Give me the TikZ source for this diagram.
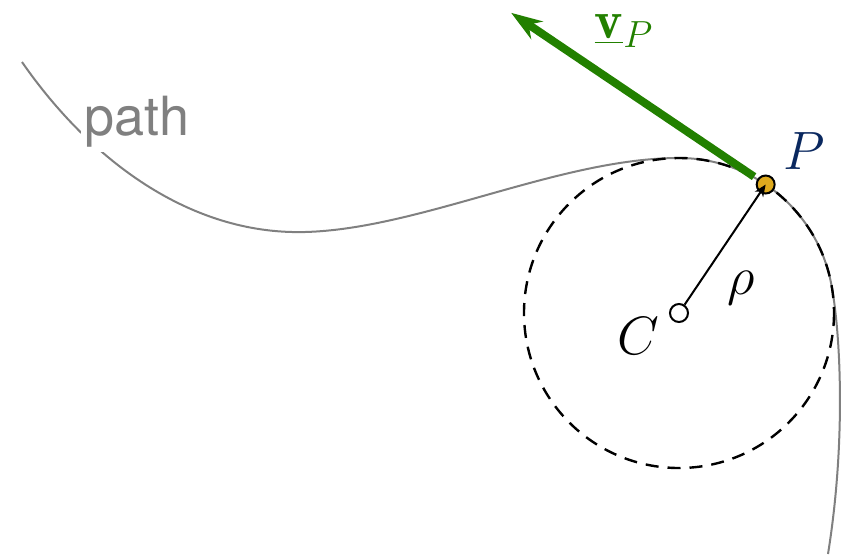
\RequirePackage{fix-cm}
\documentclass[tikz,border=0pt]{standalone}
\usepackage{fontspec}
\usepackage{xcolor}
\usetikzlibrary{arrows.meta, calc, math}
\newfontfamily\labelsans{TeX Gyre Heros}
\definecolor{vgreen}{RGB}{34,128,0}
\definecolor{pblue}{RGB}{10,40,95}
\definecolor{pgold}{RGB}{222,170,30}
\definecolor{pathgray}{RGB}{128,128,128}

\begin{document}
\begin{tikzpicture}[x=0.5pt, y=-0.5pt,
 big/.style={font=\fontsize{27}{32}\selectfont, inner sep=0pt},
 dot/.style={circle, draw, line width=1pt, minimum size=9pt, inner sep=0pt},
]

\tikzmath{
\R = 155;%curvature radius
\tP = -56;%angle of P on the circle
\tleave = -15;%path leaves the circle here
}

\useasboundingbox (0,0) rectangle (842,554);

\coordinate (Cpos) at (679,313);
\coordinate (Ppos) at ($(Cpos)+(\tP:\R)$);
\coordinate (vtip) at ($(Ppos)+(\tP-90:307)$);
\coordinate (vtail) at ($(Ppos)!7pt!(vtip)$);

%path
\draw[pathgray, line width=1pt] (22,62) .. controls (90,160) and (190,235) .. (305,232)
 .. controls (420,229) and (560,158) .. (679,158) arc(-90:\tleave:\R)
 .. controls +(10.4,38.6) and (848,430) .. (828,554);
\node[big, pathgray, fill=white, inner sep=2pt, font=\labelsans\fontsize{27}{32}\selectfont] (pathlabel) at (137,122) {path};

%osculating circle
\draw[dash pattern=on 6.5pt off 4.5pt, line width=1.2pt] (Cpos) circle (\R);

%velocity
\draw[vgreen, line width=4pt, -{Stealth[length=15.5pt, width=10.5pt, inset=5pt]}] (vtail) -- (vtip);
\node[big, vgreen] (vlabel) at (624,31) {$\underline{\mathbf{v}}_P$};

%points and radius
\node[dot, fill=pgold] (P) at (Ppos) {};
\node[dot, fill=white] (C) at (Cpos) {};
\draw[line width=1pt, -{Stealth[length=6pt, width=5pt]}] (C) -- (P.center);

\node[big, pblue] (Plabel) at (804,151) {$P$};
\node[big] (Clabel) at (638,336) {$C$};
\node[big] (rholabel) at (741,288) {$\rho$};

\end{tikzpicture}
\end{document}
